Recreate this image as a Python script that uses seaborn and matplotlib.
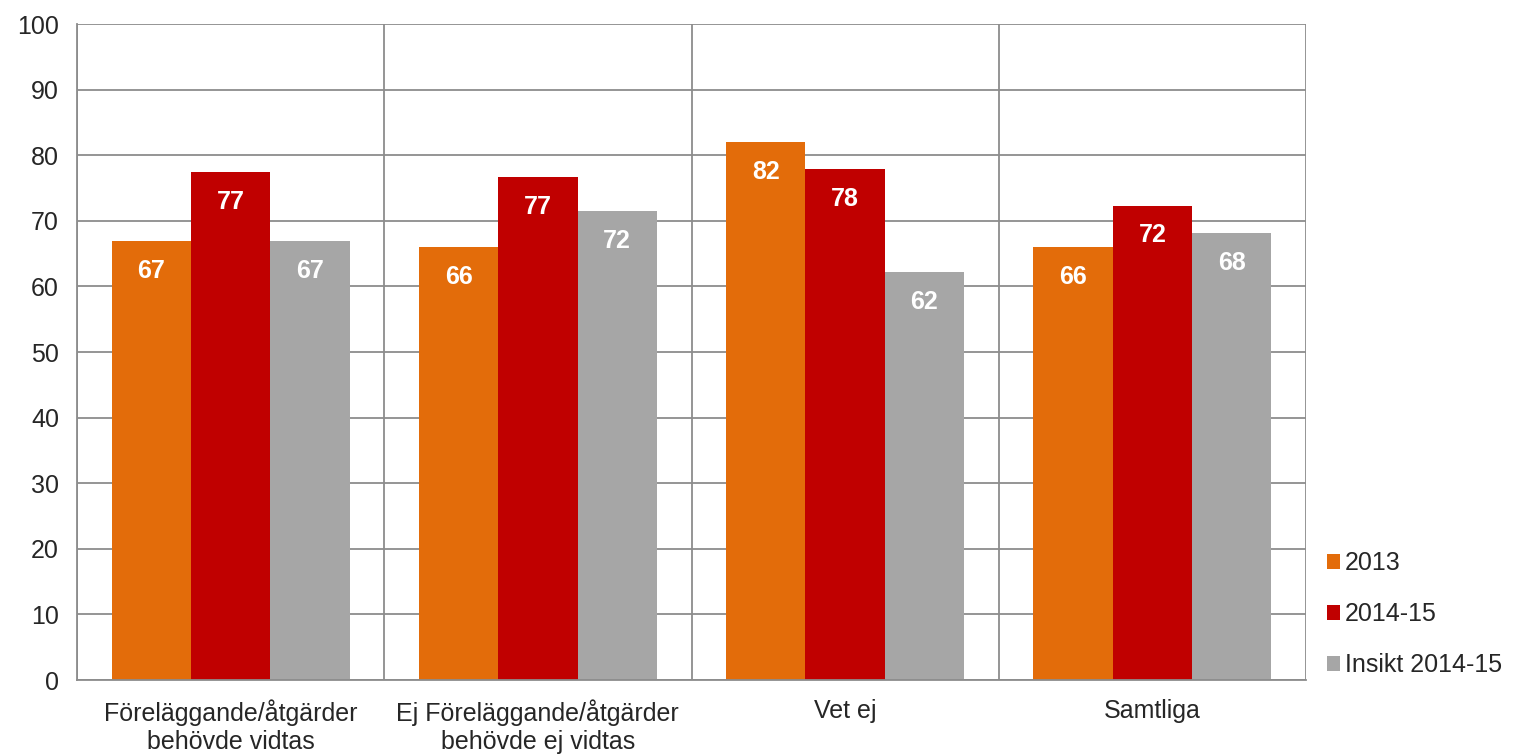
import numpy as np
import pandas as pd
import matplotlib.pyplot as plt
import seaborn as sns

kategorier = ["Föreläggande/åtgärder\nbehövde vidtas",
              "Ej Föreläggande/åtgärder\nbehövde ej vidtas",
              "Vet ej",
              "Samtliga"]
serier = ["2013", "2014-15", "Insikt 2014-15"]
v2013 = [66.9, 66.0, 82.0, 66.0]
v2014 = [77.4, 76.7, 77.9, 72.3]
insikt = [66.9, 71.5, 62.2, 68.1]
farger = ["#E36C0A", "#C00000", "#A6A6A6"]

df = pd.DataFrame({
    "kategori": kategorier * 3,
    "serie": [s for s in serier for _ in kategorier],
    "varde": v2013 + v2014 + insikt,
})

sns.set_style("white")
plt.rcParams['font.family'] = ['Liberation Sans', 'DejaVu Sans']
grid_c = "#8C8C8C"
fs = 18

fig = plt.figure(figsize=(15.16, 7.54), dpi=100)
ax = fig.add_axes([77/1516, 1-680/754, (1306-77)/1516, (680-24)/754])

sns.barplot(data=df, x="kategori", y="varde", hue="serie", palette=farger,
            width=0.775, saturation=1, gap=0, ax=ax, linewidth=0,
            errorbar=None)

for cont in ax.containers:
    ax.bar_label(cont, labels=[f"{b.get_height():.0f}" for b in cont],
                 padding=-30, color="white", fontsize=fs, fontweight="bold")

ax.set_ylim(0, 100)
ax.set_xlim(-0.5, 3.5)
ax.set_yticks(np.arange(0, 101, 10))
ax.set_xticks(np.arange(-0.5, 4, 1), minor=True)
ax.grid(axis="y", color=grid_c, linewidth=1.3)
ax.grid(axis="x", which="minor", color=grid_c, linewidth=1.3)
ax.set_axisbelow(True)
ax.tick_params(axis="y", length=0, pad=13, labelsize=fs)
ax.tick_params(axis="x", which="major", length=0, pad=14, labelsize=fs)
ax.tick_params(axis="x", which="minor", length=6, color=grid_c, width=1.3)
ax.set_xlabel("")
ax.set_ylabel("")
for s in ["top", "right"]:
    ax.spines[s].set_visible(False)
for s in ["left", "bottom"]:
    ax.spines[s].set_color(grid_c)
    ax.spines[s].set_linewidth(1.3)

h, l = ax.get_legend_handles_labels()
ax.legend_.remove()
fig.legend(h, l, loc="center left", bbox_to_anchor=(1304/1516, 140/754),
           frameon=False, fontsize=fs, handlelength=0.55, handleheight=0.55,
           handletextpad=0.2, labelspacing=1.08)

fig.savefig("out.png", dpi=100)
